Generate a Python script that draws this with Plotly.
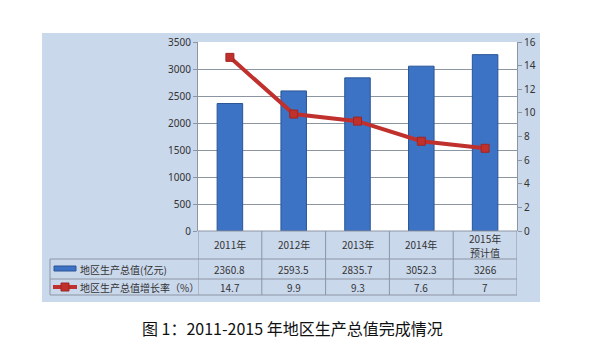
import plotly.graph_objects as go

categories = ["2011年", "2012年", "2013年", "2014年", "2015年<br>预计值"]
gdp = [2360.8, 2593.5, 2835.7, 3052.3, 3266]
growth = [14.7, 9.9, 9.3, 7.6, 7]
gdp_labels = ["2360.8", "2593.5", "2835.7", "3052.3", "3266"]
growth_labels = ["14.7", "9.9", "9.3", "7.6", "7"]
series_names = ["地区生产总值(亿元)", "地区生产总值增长率（%）"]
caption = "图 1：2011-2015 年地区生产总值完成情况"

W, H = 615, 355
OFF = 8  # page body margin
L, R, T, B = 198 - OFF, 517 - OFF, 42 - OFF, 231 - OFF


def px_x(px):
    return (px - OFF - L) / (R - L)


def px_y(py):
    return (B - (py - OFF)) / (B - T)


fig = go.Figure()
fig.add_trace(go.Bar(
    x=list(range(len(categories))), y=gdp, name=series_names[0],
    marker=dict(color="#3c73c5", line=dict(color="#2a5596", width=1)),
    width=0.4, yaxis="y", showlegend=False,
))
fig.add_trace(go.Scatter(
    x=list(range(len(categories))), y=growth, name=series_names[1],
    mode="lines+markers", yaxis="y2",
    line=dict(color="#c0312d", width=4),
    marker=dict(symbol="square", size=8, color="#c0312d",
                line=dict(color="#a02522", width=1)),
    showlegend=False,
))

shapes = []
shapes.append(dict(type="rect", xref="paper", yref="paper", layer="below",
                   x0=px_x(42), x1=px_x(540), y0=px_y(302), y1=px_y(33),
                   fillcolor="#cad8ec", line=dict(width=0)))
shapes.append(dict(type="rect", xref="paper", yref="paper", layer="below",
                   x0=0, x1=1, y0=0, y1=1,
                   fillcolor="#ffffff", line=dict(width=0)))

grid = "#8c96a3"
row_y = [231, 259, 279, 295]
shapes.append(dict(type="line", xref="paper", yref="paper",
                   x0=0, x1=1, y0=px_y(231), y1=px_y(231), line=dict(color=grid, width=1)))
for yy in row_y[1:]:
    shapes.append(dict(type="line", xref="paper", yref="paper",
                       x0=px_x(50), x1=1, y0=px_y(yy), y1=px_y(yy),
                       line=dict(color=grid, width=1)))
for i in range(len(categories) + 1):
    shapes.append(dict(type="line", xref="x", yref="paper",
                       x0=i - 0.5, x1=i - 0.5, y0=px_y(231), y1=px_y(295),
                       line=dict(color=grid, width=1)))
shapes.append(dict(type="line", xref="paper", yref="paper",
                   x0=px_x(50), x1=px_x(50), y0=px_y(259), y1=px_y(295),
                   line=dict(color=grid, width=1)))
shapes.append(dict(type="rect", xref="paper", yref="paper",
                   x0=px_x(54), x1=px_x(76), y0=px_y(271), y1=px_y(266),
                   fillcolor="#3c73c5", line=dict(color="#2a5596", width=1)))
shapes.append(dict(type="line", xref="paper", yref="paper",
                   x0=px_x(53), x1=px_x(77), y0=px_y(287), y1=px_y(287),
                   line=dict(color="#c0312d", width=4)))
shapes.append(dict(type="rect", xref="paper", yref="paper",
                   x0=px_x(61), x1=px_x(69), y0=px_y(291), y1=px_y(283),
                   fillcolor="#c0312d", line=dict(color="#a02522", width=1)))

annotations = []
tfont = dict(family="Noto Sans CJK SC, Noto Sans, sans-serif", size=10, color="#333333")
for i, c in enumerate(categories):
    parts = c.split("<br>")
    if len(parts) == 1:
        ys = [245]
    else:
        ys = [238, 253]
    for part, yy in zip(parts, ys):
        annotations.append(dict(x=i, xref="x", y=px_y(yy), yref="paper", text=part,
                                showarrow=False, font=tfont, xanchor="center", yanchor="middle"))
    annotations.append(dict(x=i, xref="x", y=px_y(269), yref="paper", text=gdp_labels[i],
                            showarrow=False, font=tfont, xanchor="center", yanchor="middle"))
    annotations.append(dict(x=i, xref="x", y=px_y(287), yref="paper", text=growth_labels[i],
                            showarrow=False, font=tfont, xanchor="center", yanchor="middle"))
annotations.append(dict(x=px_x(78), xref="paper", y=px_y(269), yref="paper", text=series_names[0],
                        showarrow=False, font=tfont, xanchor="left", yanchor="middle"))
annotations.append(dict(x=px_x(78), xref="paper", y=px_y(287), yref="paper", text=series_names[1],
                        showarrow=False, font=tfont, xanchor="left", yanchor="middle"))
annotations.append(dict(x=px_x(292), xref="paper", y=px_y(328), yref="paper", text=caption,
                        showarrow=False,
                        font=dict(family="Noto Sans CJK SC, sans-serif", size=16, color="#111111"),
                        xanchor="center", yanchor="middle"))

fig.update_layout(
    width=W, height=H,
    margin=dict(l=L, r=W - R, t=T, b=H - B, pad=0),
    paper_bgcolor="#ffffff", plot_bgcolor="rgba(0,0,0,0)",
    xaxis=dict(range=[-0.5, 4.5], showticklabels=False, showgrid=False,
               zeroline=False, ticks="", showline=False),
    yaxis=dict(range=[0, 3500], dtick=500, showgrid=True, gridcolor=grid, gridwidth=1,
               zeroline=False, showline=True, linecolor=grid, ticks="outside",
               ticklen=4, tickcolor=grid,
               tickfont=dict(family="Noto Sans, sans-serif", size=10, color="#333333")),
    yaxis2=dict(range=[0, 16], dtick=2, overlaying="y", side="right", showgrid=False,
                zeroline=False, showline=True, linecolor=grid, ticks="outside",
                ticklen=4, tickcolor=grid,
                tickfont=dict(family="Noto Sans, sans-serif", size=10, color="#333333")),
    shapes=shapes, annotations=annotations, showlegend=False,
)

fig.write_html("out.html")
